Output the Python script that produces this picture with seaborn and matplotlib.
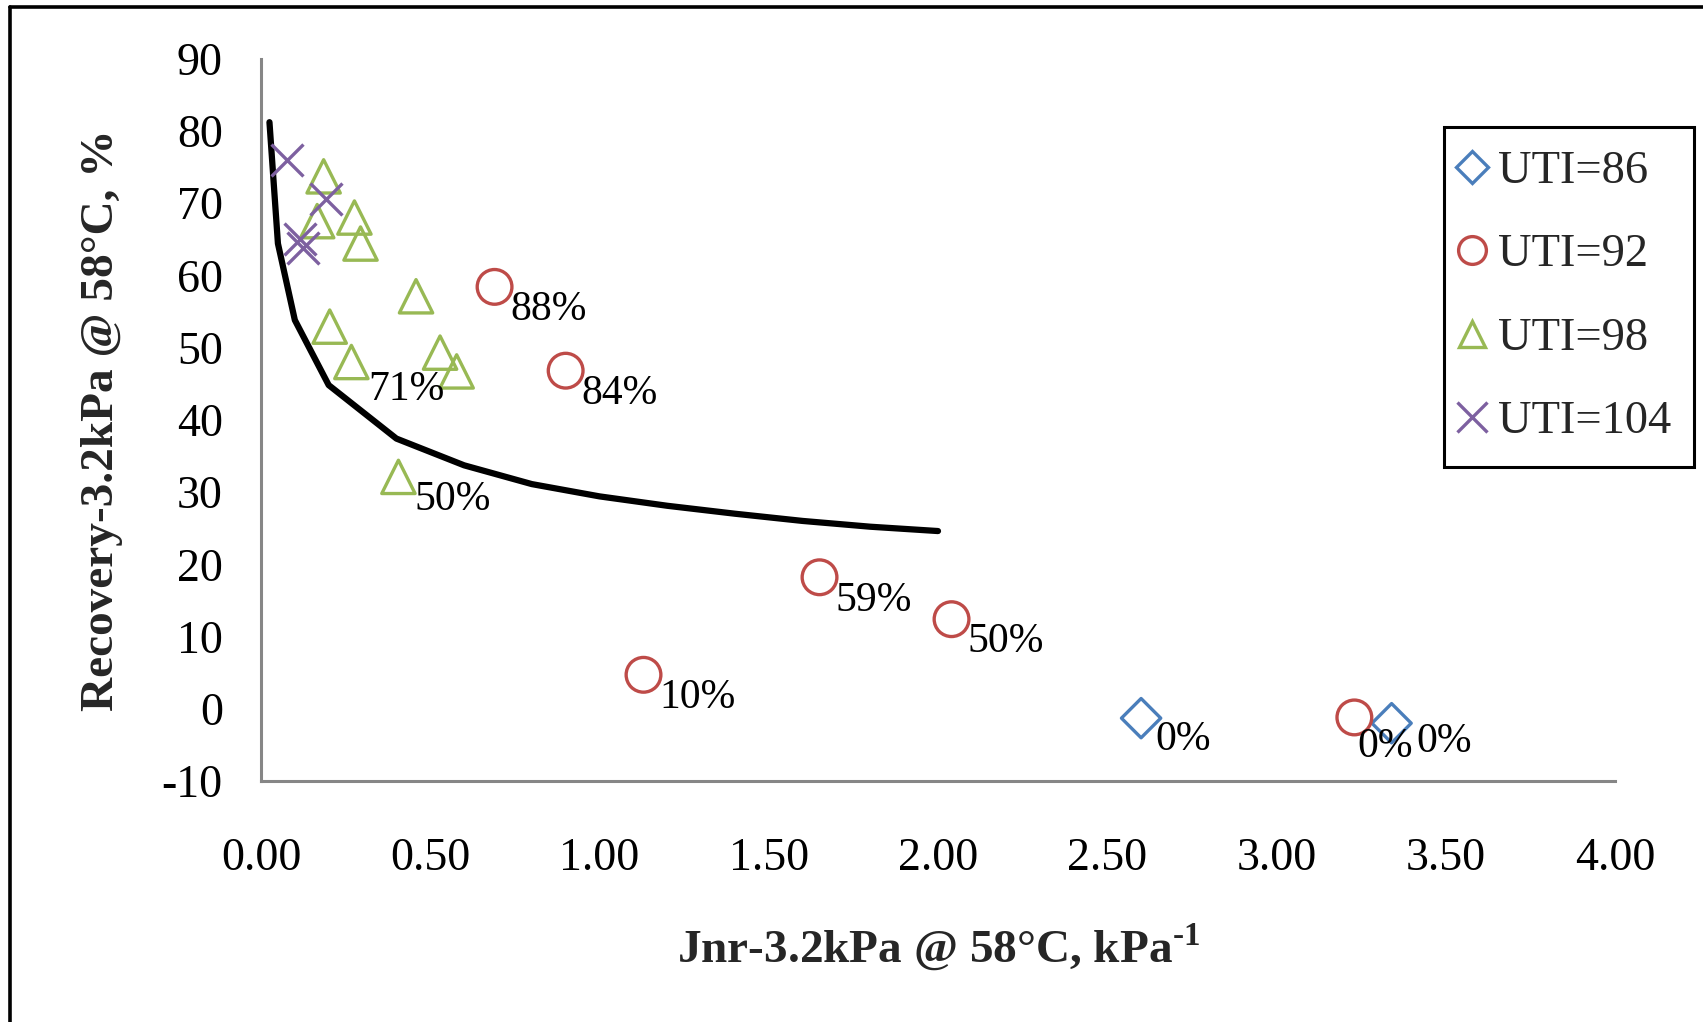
import matplotlib
matplotlib.use("Agg")
import matplotlib.pyplot as plt
from matplotlib.lines import Line2D
import pandas as pd
import seaborn as sns

# Jnr-3.2kPa (kPa^-1) and recovery (%) by UTI grade, with the label shown for each point
uti86_jnr = [2.60, 3.34]
uti86_rec = [-1.3, -2.0]
uti86_lab = ["0%", "0%"]

uti92_jnr = [0.69, 0.90, 1.13, 1.65, 2.04, 3.23]
uti92_rec = [58.4, 46.8, 4.7, 18.2, 12.4, -1.2]
uti92_lab = ["88%", "84%", "10%", "59%", "50%", "0%"]

uti98_jnr = [0.185, 0.166, 0.276, 0.294, 0.458, 0.203, 0.267, 0.529, 0.578, 0.406]
uti98_rec = [73.7, 67.5, 68.0, 64.4, 57.1, 52.9, 48.0, 49.3, 46.7, 32.1]
uti98_lab = ["", "", "", "", "", "", "71%", "", "", "50%"]

uti104_jnr = [0.077, 0.193, 0.115, 0.125]
uti104_rec = [76.0, 70.6, 65.0, 63.8]
uti104_lab = ["", "", "", ""]

# reference curve of minimum recovery versus Jnr
curve_jnr = [0.025, 0.05, 0.1, 0.2, 0.4, 0.6, 0.8, 1.0, 1.2, 1.4, 1.6, 1.8, 2.0]
curve_rec = [81.2, 64.4, 53.8, 44.8, 37.4, 33.7, 31.1, 29.4, 28.1, 27.0, 26.0, 25.2, 24.6]

x_ticks = [0.0, 0.5, 1.0, 1.5, 2.0, 2.5, 3.0, 3.5, 4.0]
y_ticks = [-10, 0, 10, 20, 30, 40, 50, 60, 70, 80, 90]

sns.set_style("white")
plt.rcParams["font.family"] = ["Liberation Serif", "DejaVu Serif"]
plt.rcParams["mathtext.fontset"] = "custom"
plt.rcParams["mathtext.rm"] = "Liberation Serif:bold"
plt.rcParams["mathtext.bf"] = "Liberation Serif:bold"

W, H = 1703, 1022
fig = plt.figure(figsize=(W / 100, H / 100), dpi=100)
ax = fig.add_axes([261 / W, 241 / H, 1354 / W, 722.4 / H])

curve = pd.DataFrame({"jnr": curve_jnr, "rec": curve_rec})
sns.lineplot(data=curve, x="jnr", y="rec", ax=ax, color="black", lw=4.5,
             sort=False, legend=False, zorder=2)

groups = [
    ("UTI=86", uti86_jnr, uti86_rec, uti86_lab, "D", "#4a7ebb", 20),
    ("UTI=92", uti92_jnr, uti92_rec, uti92_lab, "o", "#be4b48", 25),
    ("UTI=98", uti98_jnr, uti98_rec, uti98_lab, "^", "#98b954", 24),
    ("UTI=104", uti104_jnr, uti104_rec, uti104_lab, "x", "#7d60a0", 23),
]

# label offsets in pixels (right, down) from the marker centre
label_shift = {
    ("UTI=92", 5): (3, 29),
    ("UTI=86", 1): (25, 19),
    ("UTI=86", 0): (14, 22),
    ("UTI=98", 6): (17, 28),
}

handles = []
for name, xs, ys, labs, mk, col, size in groups:
    df = pd.DataFrame({"jnr": xs, "rec": ys})
    if mk == "x":
        sns.scatterplot(data=df, x="jnr", y="rec", ax=ax, marker=mk, s=size ** 2,
                        color=col, linewidth=2.4, zorder=3, clip_on=False, legend=False)
    else:
        sns.scatterplot(data=df, x="jnr", y="rec", ax=ax, marker=mk, s=size ** 2,
                        color=col, facecolor="none", edgecolor=col, linewidth=2.4,
                        zorder=3, clip_on=False, legend=False)
    for i, (xv, yv, t) in enumerate(zip(xs, ys, labs)):
        if not t:
            continue
        dx, dy = label_shift.get((name, i), (16, 23))
        ax.annotate(t, (xv, yv), xytext=(dx * 0.72, -dy * 0.72),
                    textcoords="offset points", ha="left", va="center",
                    fontsize=30, color="black")
    if mk == "x":
        h = Line2D([], [], marker=mk, ls="none", color=col, markersize=size * 0.95,
                   markeredgewidth=2.4)
    else:
        h = Line2D([], [], marker=mk, ls="none", markerfacecolor="none",
                   markeredgecolor=col, markersize=size * 0.8, markeredgewidth=2.4)
    handles.append((h, name))

ax.set_xlim(0, 4)
ax.set_ylim(-10, 90)
ax.set_xticks(x_ticks)
ax.set_xticklabels([f"{v:.2f}" for v in x_ticks])
ax.set_yticks(y_ticks)
ax.set_yticklabels([str(v) for v in y_ticks])

spine_col = "#868686"
for side in ["top", "right"]:
    ax.spines[side].set_visible(False)
for side in ["left", "bottom"]:
    ax.spines[side].set_color(spine_col)
    ax.spines[side].set_linewidth(2.2)
ax.tick_params(axis="both", direction="out", length=9.5, width=2.2, color=spine_col,
               labelsize=33, labelcolor="black")
ax.tick_params(axis="x", pad=31)
ax.tick_params(axis="y", pad=18)
ax.grid(False)

ax.set_xlabel(r"Jnr-3.2kPa @ 58°C, kPa$^{\text{-1}}$", fontsize=34,
              fontweight="bold", labelpad=30)
ax.set_ylabel("Recovery-3.2kPa @ 58°C, %", fontsize=34, fontweight="bold",
              labelpad=28)

leg = ax.legend([h for h, _ in handles], [n for _, n in handles],
                loc="upper left", bbox_to_anchor=(1444 / W, 1 - 127 / H),
                bbox_transform=fig.transFigure, borderaxespad=0,
                fontsize=33.5, frameon=True, fancybox=False, framealpha=1,
                edgecolor="black", handlelength=0.2, handletextpad=0.45,
                borderpad=0.5, labelspacing=0.88)
leg.get_frame().set_linewidth(2.2)

# chart-area border along the top and left edges
fig.add_artist(Line2D([10 / W, 1], [1 - 7 / H, 1 - 7 / H], transform=fig.transFigure,
                      color="black", lw=2.6))
fig.add_artist(Line2D([10 / W, 10 / W], [0, 1 - 7 / H], transform=fig.transFigure,
                      color="black", lw=2.6))

fig.savefig("out.png", dpi=100, facecolor="white")
